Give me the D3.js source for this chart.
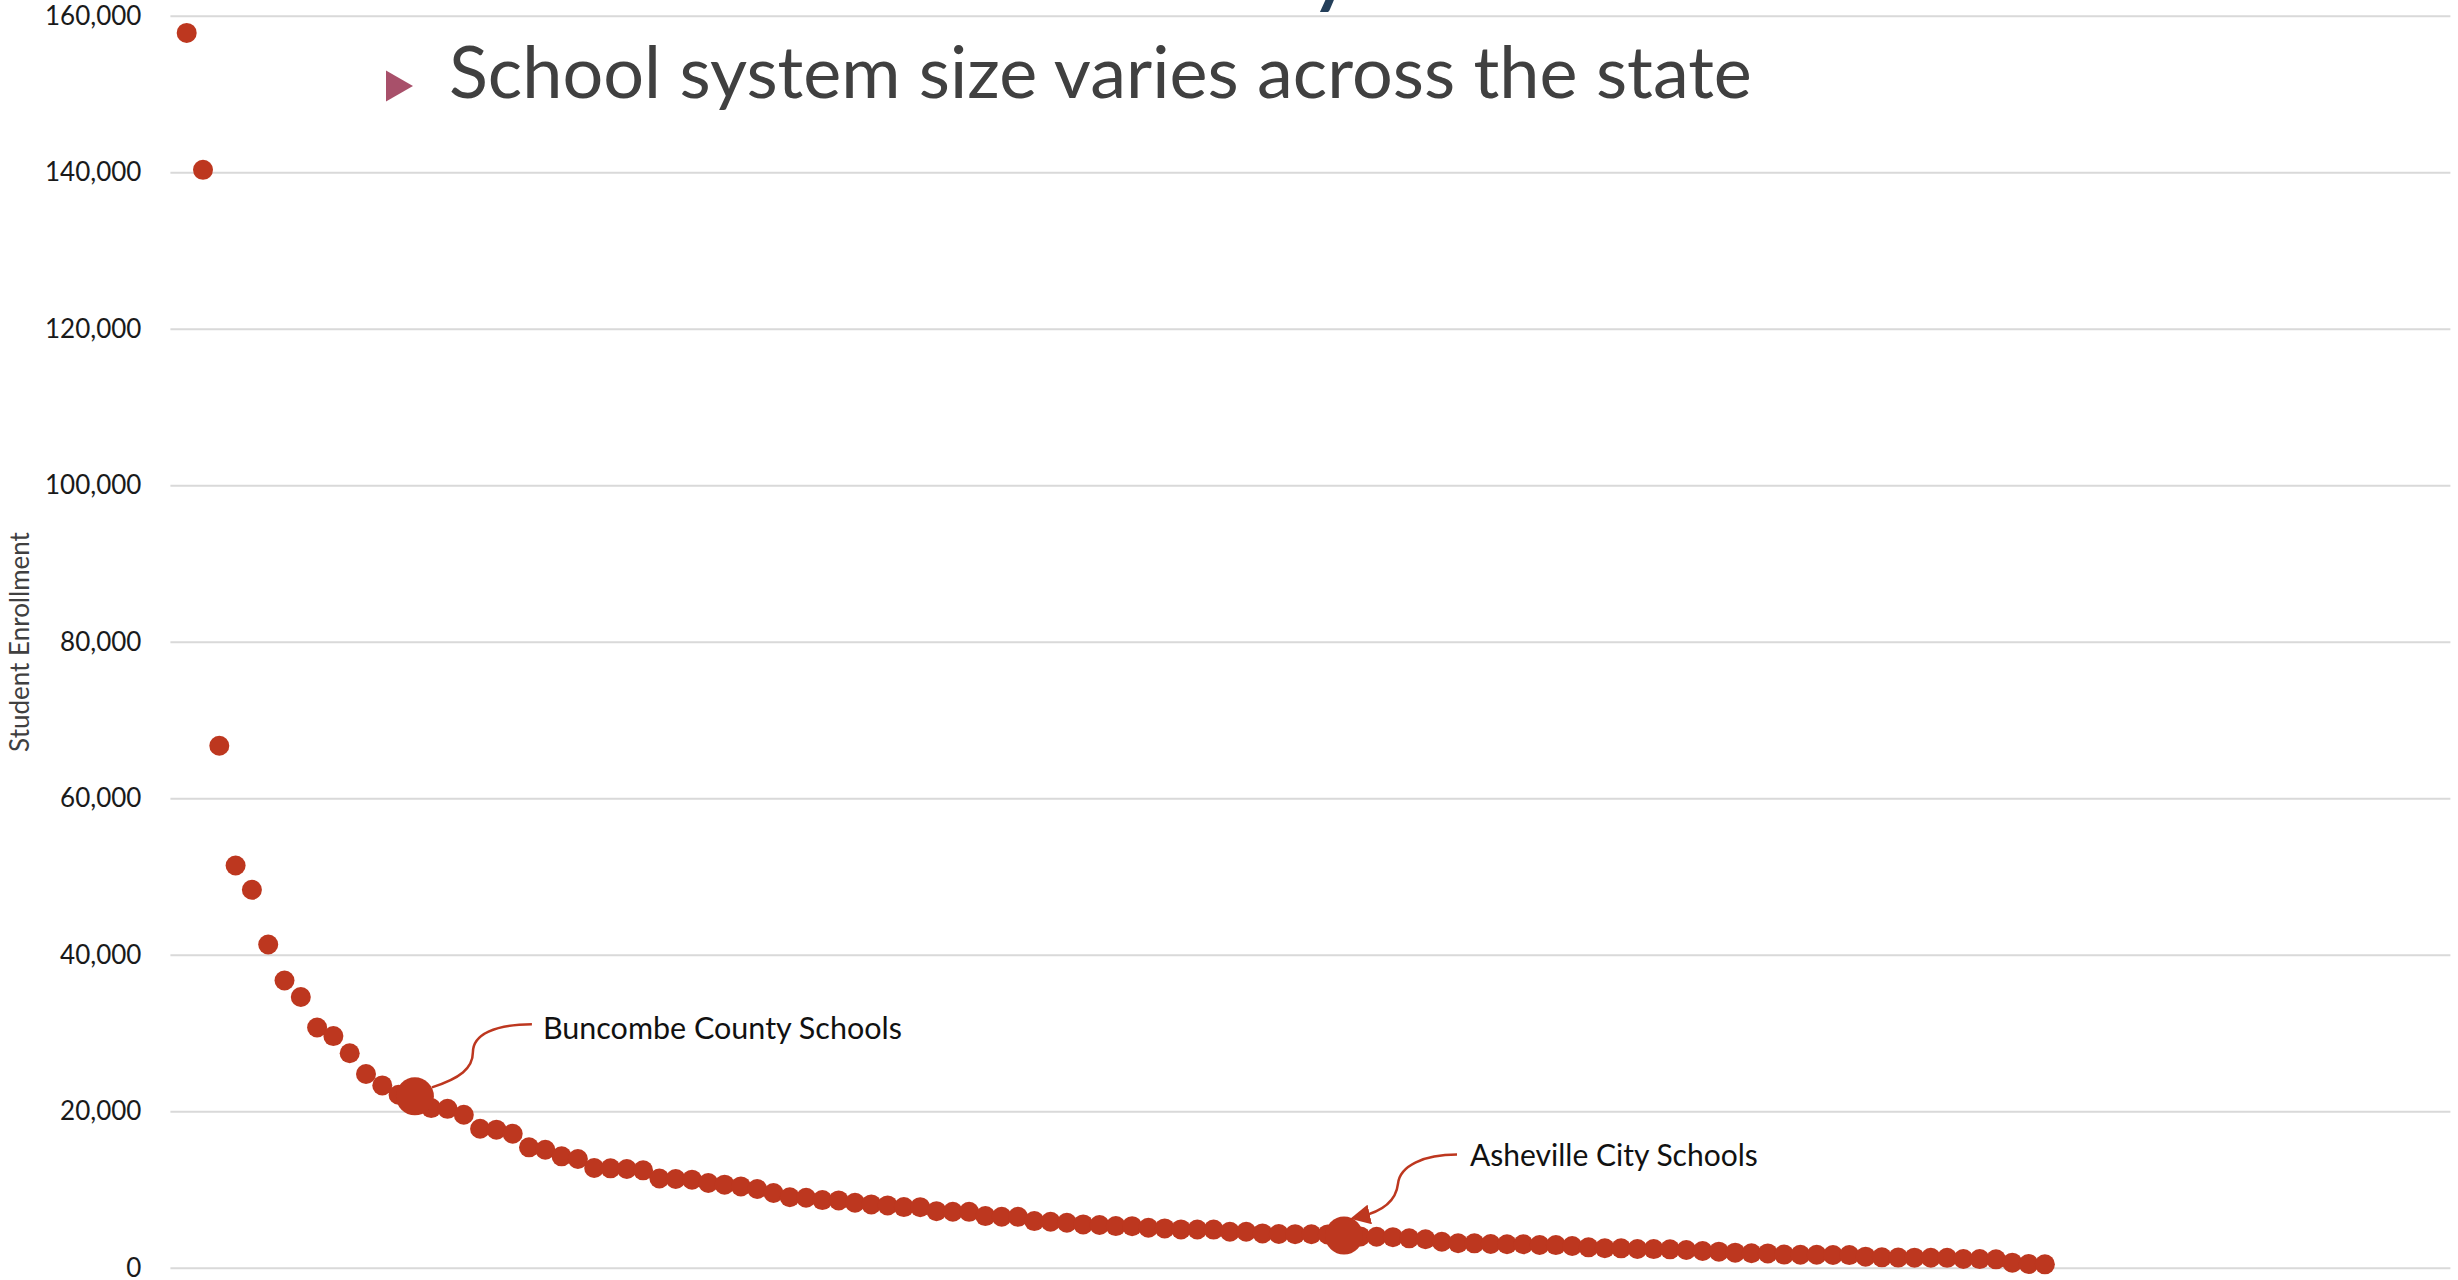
<!doctype html>
<html>
<head>
<meta charset="utf-8">
<script src="https://d3js.org/d3.v7.min.js"></script>
<style>
    body { margin: 0; background: #fff; }
    .grid line { stroke: #d9d9d9; stroke-width: 2px; }
    .grid text { fill: #1a1a1a; font-family: Lato, sans-serif; font-size: 26px; }
</style>
</head>
<body>
<script>

    // districts ranked by enrollment, largest first (1 = largest)
    var rank = d3.range(1, 116);

    var enrollment = [
        157800, 140300, 66700, 51400, 48300, 41300, 36700, 34600, 30700, 29600,
        27400, 24750, 23300, 22100, 21900, 20400, 20300, 19550, 17760, 17640,
        17120, 15380, 15080, 14230, 13890, 12740, 12700, 12610, 12440, 11400,
        11330, 11250, 10820, 10610, 10390, 10060, 9550, 9000, 8940, 8640,
        8600, 8300, 8090, 7960, 7750, 7740, 7230, 7150, 7140, 6600,
        6510, 6500, 5960, 5870, 5740, 5530, 5450, 5320, 5310, 5100,
        5020, 4890, 4880, 4870, 4600, 4590, 4380, 4300, 4290, 4280,
        4250, 4100, 4000, 3950, 3900, 3750, 3630, 3320, 3120, 3110,
        3030, 3000, 2990, 2900, 2890, 2770, 2600, 2480, 2470, 2390,
        2380, 2350, 2260, 2130, 2050, 1920, 1840, 1830, 1680, 1660,
        1650, 1620, 1610, 1410, 1320, 1290, 1280, 1270, 1260, 1110,
        1100, 1070, 640, 470, 430
    ];

    var yTicks = [0, 20000, 40000, 60000, 80000, 100000, 120000, 140000, 160000];

    // highlighted districts: rank and label
    var callouts = [
        {rank: 15, label: "Buncombe County Schools"},
        {rank: 72, label: "Asheville City Schools"}
    ];

    var data = rank.map(function (r, i) {
        return {rank: r, value: enrollment[i]};
    });

    var W = 2458, H = 1280;
    var red = "#bd371f";

    var svg = d3.select("body")
        .append("svg")
        .attr("width", W)
        .attr("height", H);

    var x = d3.scaleLinear()
        .domain([0, 140])
        .range([170.4, 2452.4]);

    var y = d3.scaleLinear()
        .domain([0, 160000])
        .range([1267.7, 15.7]);

    // horizontal gridlines + labels
    svg.append("g")
        .attr("class", "grid")
        .attr("transform", "translate(170.4,0)")
        .call(d3.axisLeft(y)
            .tickValues(yTicks)
            .tickFormat(d3.format(","))
            .tickSize(-2280)
            .tickPadding(29))
        .call(function (g) { g.select(".domain").remove(); });

    // y axis title
    svg.append("text")
        .attr("transform", "rotate(-90)")
        .attr("x", -642)
        .attr("y", 29)
        .attr("text-anchor", "middle")
        .attr("font-family", "Lato, sans-serif")
        .attr("font-size", 26)
        .attr("fill", "#404040")
        .text("Student Enrollment");

    // bit of the slide heading that hangs in from above
    svg.append("text")
        .attr("x", 1333)
        .attr("y", -5)
        .attr("text-anchor", "middle")
        .attr("font-family", "Lato, sans-serif")
        .attr("font-size", 100)
        .attr("fill", "#243f5a")
        .text("y");

    // bullet + subtitle
    svg.append("path")
        .attr("d", d3.symbol().type(d3.symbolTriangle).size(420))
        .attr("transform", "translate(395,86) rotate(90)")
        .attr("fill", "#a8506a");

    var title = svg.append("text")
        .attr("x", 449)
        .attr("y", 98)
        .attr("font-family", "Lato, sans-serif")
        .attr("font-size", 68)
        .attr("fill", "#404040")
        .text("School system size varies across the state");
    fitWidth(title, 1303);

    // dots
    svg.append("g")
        .selectAll("circle")
        .data(data)
        .enter()
        .append("circle")
        .attr("cx", function (d) { return x(d.rank); })
        .attr("cy", function (d) { return y(d.value); })
        .attr("r", 10)
        .attr("fill", red);

    // arrow head for the Asheville pointer
    svg.append("defs").append("marker")
        .attr("id", "arrow")
        .attr("viewBox", "0 0 10 10")
        .attr("refX", 5)
        .attr("refY", 5)
        .attr("markerWidth", 8)
        .attr("markerHeight", 8)
        .attr("orient", "auto")
        .append("path")
        .attr("d", "M0,0 L10,5 L0,10 z")
        .attr("fill", red);

    var hl = callouts.map(function (c) {
        return {rank: c.rank, label: c.label, value: enrollment[c.rank - 1]};
    });

    svg.append("g")
        .selectAll("circle")
        .data(hl)
        .enter()
        .append("circle")
        .attr("cx", function (d) { return x(d.rank); })
        .attr("cy", function (d) { return y(d.value); })
        .attr("r", 19)
        .attr("fill", red);

    // connector shapes, relative to the highlighted dot
    var connectors = [
        {path: "M17,-9 C45,-18 58,-28 58,-44 C58,-62 80,-72 117,-72", arrow: false, tx: 128, ty: -57, w: 359},
        {path: "M113,-81 C80,-81 56,-70 54,-52 C52,-34 38,-24 16,-19", arrow: true, tx: 126, ty: -70, w: 288}
    ];

    hl.forEach(function (d, i) {
        var c = connectors[i];
        var g = svg.append("g")
            .attr("transform", "translate(" + x(d.rank) + "," + y(d.value) + ")");
        var p = g.append("path")
            .attr("d", c.path)
            .attr("fill", "none")
            .attr("stroke", red)
            .attr("stroke-width", 2.5);
        if (c.arrow) p.attr("marker-end", "url(#arrow)");
        var t = g.append("text")
            .attr("x", c.tx)
            .attr("y", c.ty)
            .attr("font-family", "Lato, sans-serif")
            .attr("font-size", 29)
            .attr("fill", "#111")
            .text(d.label);
        fitWidth(t, c.w);
    });

    function fitWidth(sel, w) {
        var len = sel.node().getComputedTextLength();
        var fs = parseFloat(sel.attr("font-size"));
        sel.attr("font-size", fs * w / len);
    }

</script>
</body>
</html>
